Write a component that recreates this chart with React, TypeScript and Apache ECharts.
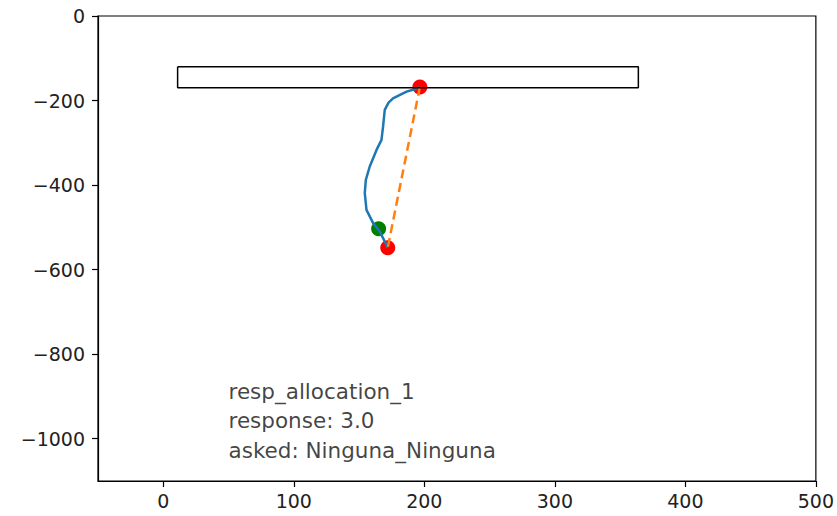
import React, { useEffect, useRef } from "react";
import * as echarts from "echarts";

const xTicks = [0, 100, 200, 300, 400, 500];
const yTicks = [0, -200, -400, -600, -800, -1000];

const targetRect: [number, number][] = [
  [11, -120],
  [364, -120],
  [364, -170],
  [11, -170],
  [11, -120],
];

const trajectory: [number, number][] = [
  [196.6, -168],
  [195.2, -171],
  [186.4, -179],
  [176, -195],
  [172.6, -205],
  [169.7, -222],
  [168.4, -261.7],
  [167.2, -293],
  [163.4, -316.8],
  [158.2, -356],
  [155.2, -387.7],
  [154.4, -419],
  [155.7, -458.6],
  [160.8, -490],
  [165.9, -510],
  [169.7, -533.6],
  [172, -548],
];

const straightLine: [number, number][] = [
  [196.6, -168],
  [172, -548],
];

const redPoints: [number, number][] = [
  [196.6, -168],
  [172, -548],
];

const greenPoints: [number, number][] = [[165, -503]];

const annotationLines = ["resp_allocation_1", "response: 3.0", "asked: Ninguna_Ninguna"];
const annotationY = [-889, -957, -1028];
const annotationX = 50;

const fmtMinus = (v: number) => String(v).replace("-", "\u2212");

export default function App() {
  const ref = useRef<HTMLDivElement>(null);
  useEffect(() => {
    document.body.style.margin = "0";
    const chart = echarts.init(ref.current!, undefined, { renderer: "svg" });
    const font = "DejaVu Sans";
    const axisCommon = {
      axisLine: { show: true, onZero: false, lineStyle: { color: "#000", width: 1.2 } },
      axisTick: { show: true, inside: false, length: 6, lineStyle: { color: "#000", width: 1.2 } },
      splitLine: { show: false },
    };
    chart.setOption({
      animation: false,
      backgroundColor: "#fff",
      grid: { left: 98, right: 21, top: 16, bottom: 35, show: true, borderColor: "#000", borderWidth: 1.2 },
      xAxis: {
        type: "value",
        min: -50,
        max: 500,
        ...axisCommon,
        axisTick: { ...axisCommon.axisTick, customValues: xTicks },
        axisLabel: {
          customValues: xTicks,
          color: "#222",
          fontFamily: font,
          fontSize: 19,
          margin: 10,
          formatter: fmtMinus,
        },
      },
      yAxis: {
        type: "value",
        min: -1100,
        max: 0,
        ...axisCommon,
        axisTick: { ...axisCommon.axisTick, customValues: yTicks },
        axisLabel: {
          customValues: yTicks,
          color: "#222",
          fontFamily: font,
          fontSize: 19,
          margin: 13,
          formatter: fmtMinus,
        },
      },
      series: [
        {
          type: "scatter",
          data: redPoints,
          symbolSize: 15,
          itemStyle: { color: "#ff0000", opacity: 1 },
          z: 2,
        },
        {
          type: "scatter",
          data: greenPoints,
          symbolSize: 15,
          itemStyle: { color: "#008000", opacity: 1 },
          z: 3,
        },
        {
          type: "line",
          data: trajectory,
          showSymbol: false,
          symbol: "none",
          lineStyle: { color: "#1f77b4", width: 2.5 },
          z: 4,
        },
        {
          type: "line",
          data: straightLine,
          showSymbol: false,
          symbol: "none",
          lineStyle: { color: "#ff7f0e", width: 2.5, type: [9, 5] },
          z: 5,
        },
        {
          type: "line",
          data: targetRect,
          showSymbol: false,
          symbol: "none",
          lineStyle: { color: "#000", width: 1.5 },
          z: 6,
        },
        {
          type: "scatter",
          symbolSize: 0,
          data: annotationLines.map((t, i) => ({ value: [annotationX, annotationY[i]], name: t })),
          label: {
            show: true,
            position: "inside",
            align: "left",
            verticalAlign: "middle",
            formatter: (p: any) => p.name,
            color: "#111",
            fontFamily: font,
            fontSize: 21.5,
          },
          z: 7,
        },
      ],
    });
    return () => chart.dispose();
  }, []);
  return <div ref={ref} style={{ width: 837, height: 516 }} />;
}
